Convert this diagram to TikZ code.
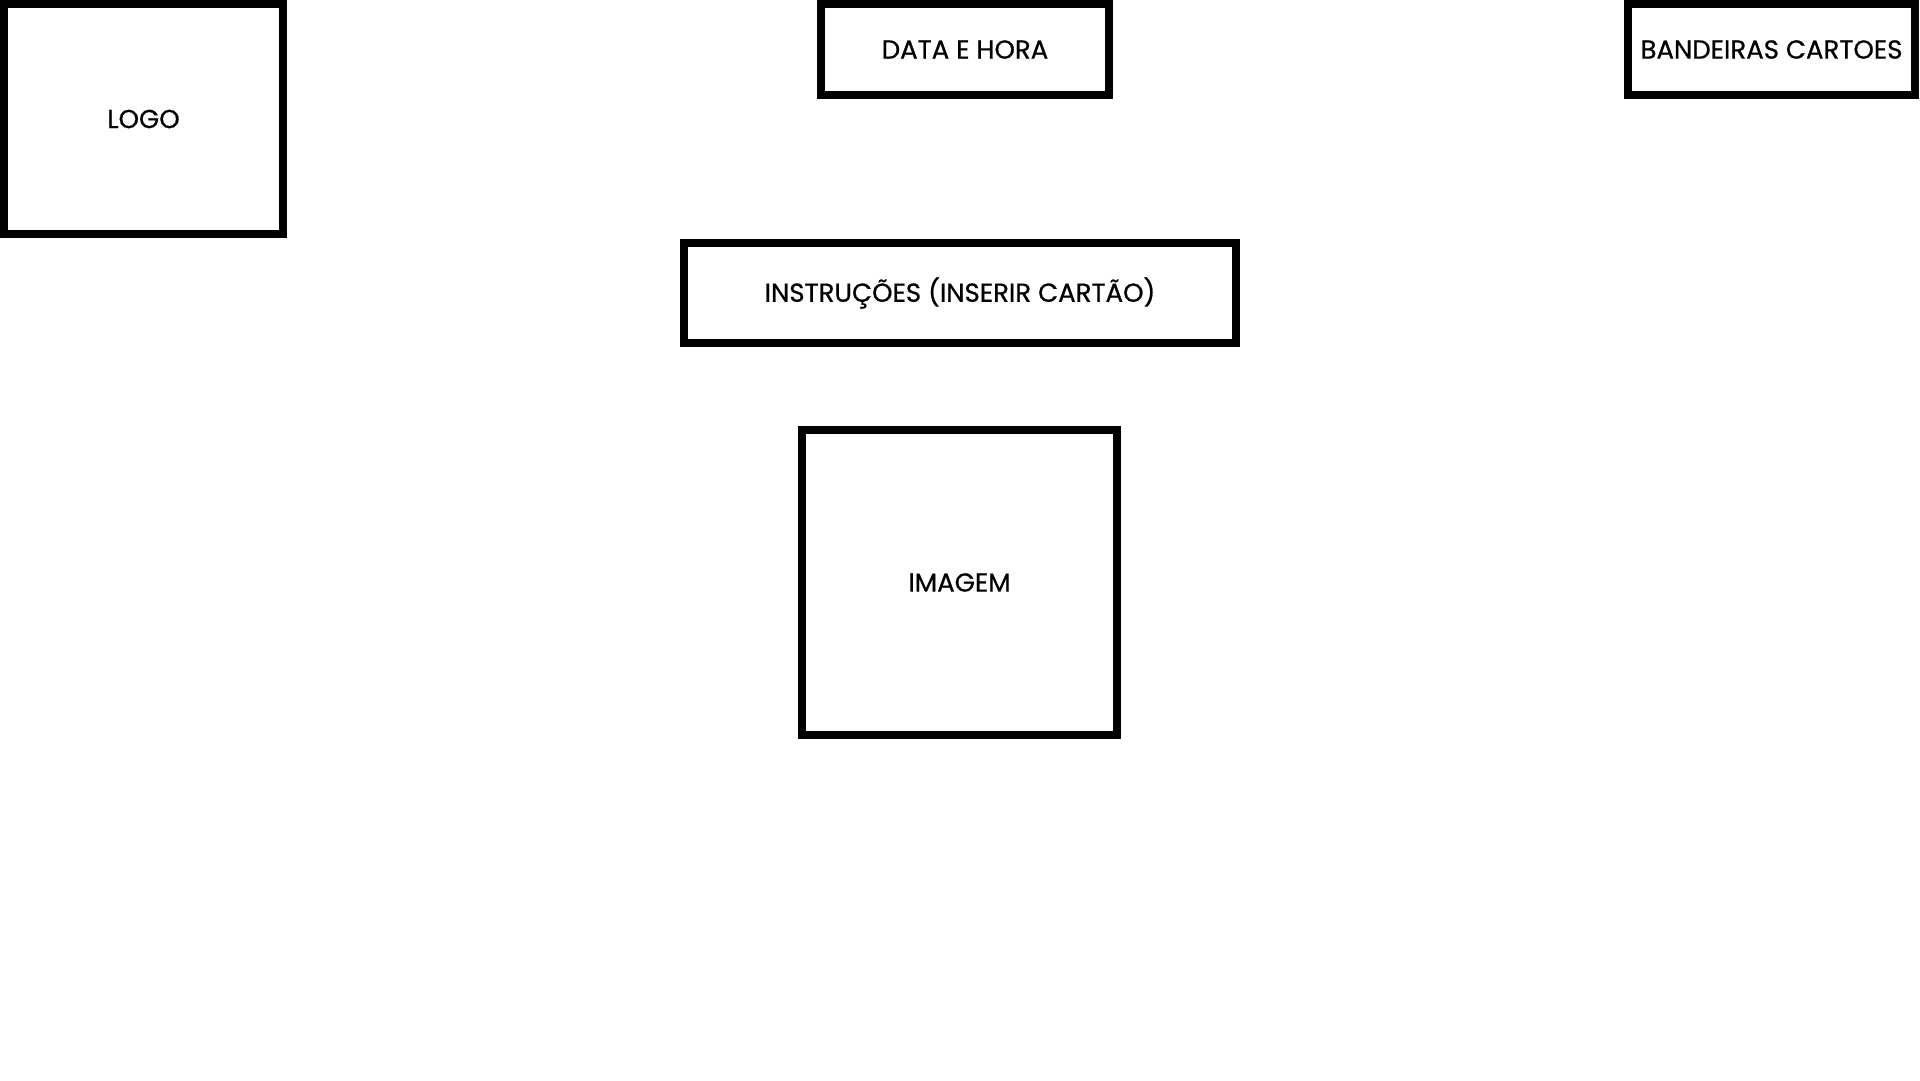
\documentclass[tikz,border=0pt]{standalone}
\usepackage{fontspec}
\setmainfont{Poppins}
\newfontfamily\boxfont{Poppins}[FakeBold=0.7]
\begin{document}
\begin{tikzpicture}[x=1pt,y=-1pt,
  wbox/.style={draw=black,line width=8pt,fill=white,inner sep=0pt,
    font=\boxfont\fontsize{26}{30}\selectfont,text=black}]
\useasboundingbox[fill=white] (0,0) rectangle (1920,1080);
\node[wbox,minimum width=279pt,minimum height=230pt] (logo) at (143.5,119) {LOGO};
\node[wbox,minimum width=288pt,minimum height=91pt] (data) at (965,49.5) {DATA E HORA};
\node[wbox,minimum width=287pt,minimum height=91pt] (band) at (1771.5,49.5) {BANDEIRAS CARTOES};
\node[wbox,minimum width=552pt,minimum height=100pt] (instr) at (960,293) {INSTRUÇÕES (INSERIR CARTÃO)};
\node[wbox,minimum width=315pt,minimum height=305pt] (img) at (959.5,582.5) {IMAGEM};
\end{tikzpicture}
\end{document}
